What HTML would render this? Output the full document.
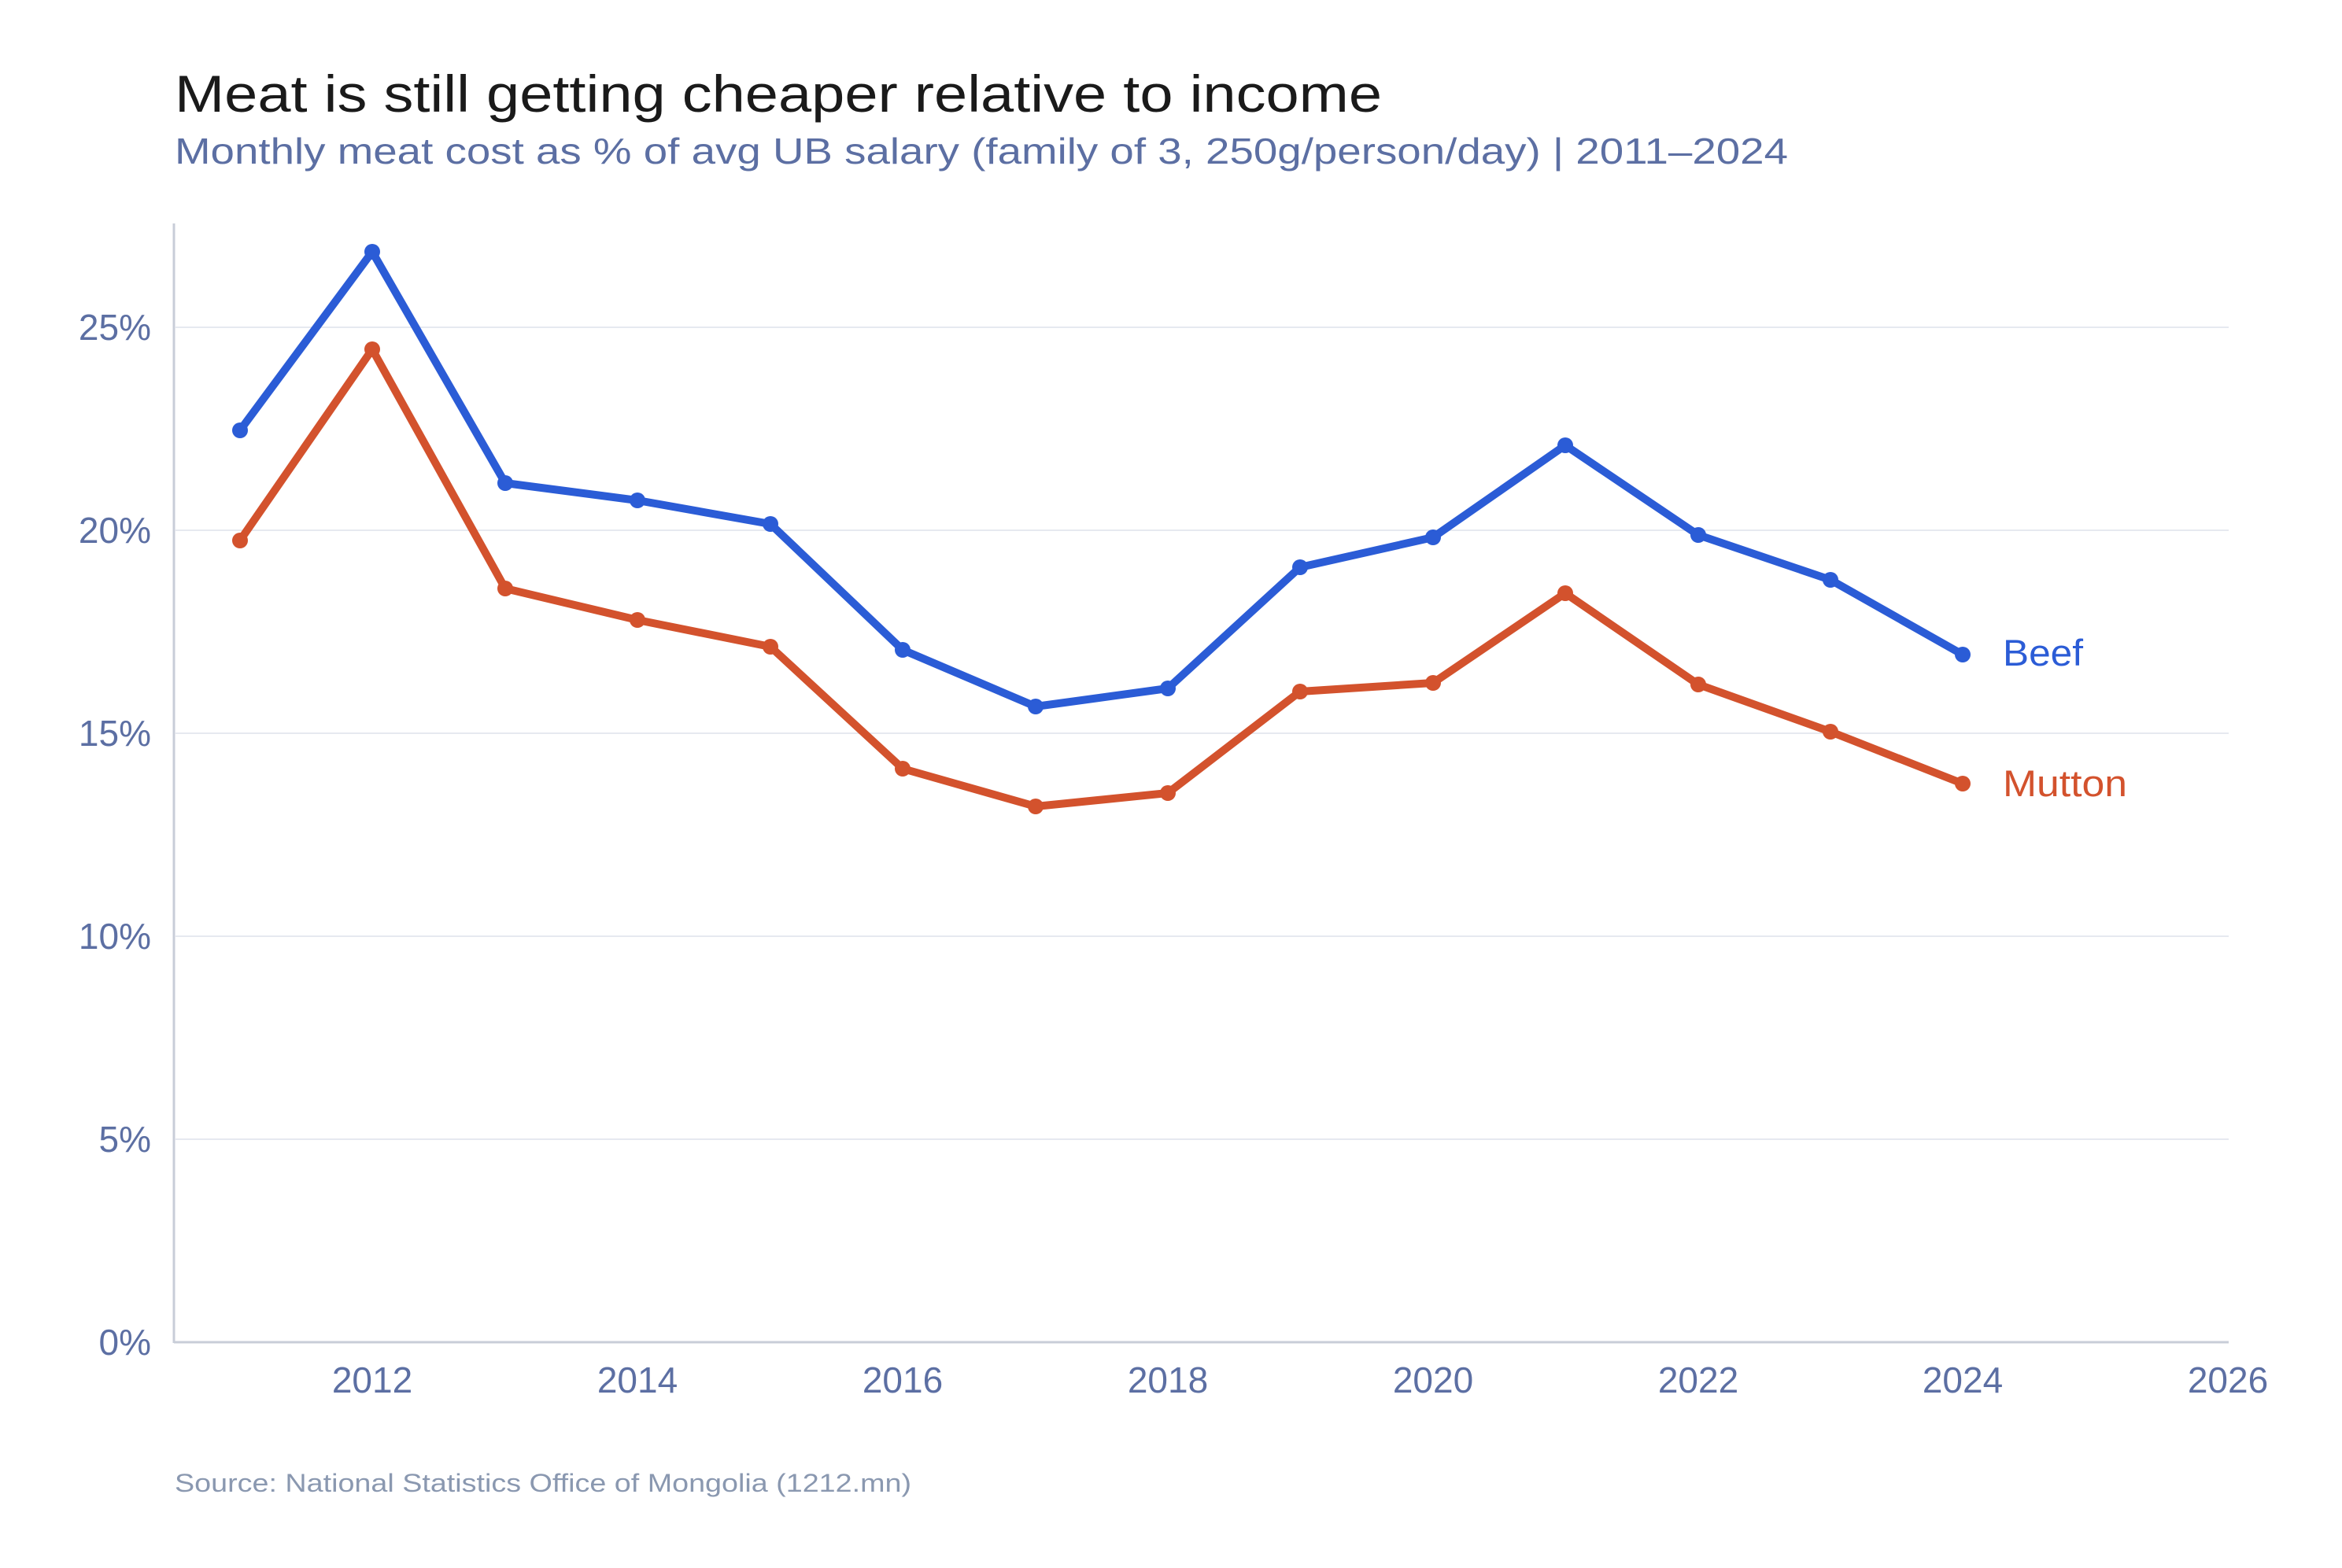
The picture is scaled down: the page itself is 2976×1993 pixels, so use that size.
<!DOCTYPE html>
<html><head><meta charset="utf-8"><style>html,body{margin:0;padding:0;background:#fff}svg{display:block}</style></head>
<body>
<svg width="2976" height="1993" viewBox="0 0 2976 1993" xmlns="http://www.w3.org/2000/svg" font-family="Liberation Sans, Arial, sans-serif">
<rect width="2976" height="1993" fill="#fff"/>
<text x="222" y="142" font-size="66" fill="#1a1a1a" textLength="1534" lengthAdjust="spacingAndGlyphs">Meat is still getting cheaper relative to income</text>
<text x="222" y="208" font-size="46" fill="#5c6fa3" textLength="2050" lengthAdjust="spacingAndGlyphs">Monthly meat cost as % of avg UB salary (family of 3, 250g/person/day) | 2011–2024</text>
<g stroke="#e6e9f0" stroke-width="2">
<line x1="223" y1="416" x2="2832" y2="416"/>
<line x1="223" y1="674" x2="2832" y2="674"/>
<line x1="223" y1="932" x2="2832" y2="932"/>
<line x1="223" y1="1190" x2="2832" y2="1190"/>
<line x1="223" y1="1448" x2="2832" y2="1448"/>
</g>
<line x1="221" y1="284" x2="221" y2="1707" stroke="#c8cdd8" stroke-width="3"/>
<line x1="221" y1="1706" x2="2832" y2="1706" stroke="#c8cdd8" stroke-width="3"/>
<g font-size="46" fill="#5c6fa3" text-anchor="end">
<text x="192" y="432">25%</text><text x="192" y="690">20%</text><text x="192" y="948">15%</text>
<text x="192" y="1206">10%</text><text x="192" y="1464">5%</text><text x="192" y="1722">0%</text>
</g>
<g font-size="46" fill="#5c6fa3" text-anchor="middle">
<text x="473" y="1770">2012</text><text x="810" y="1770">2014</text><text x="1147" y="1770">2016</text>
<text x="1484" y="1770">2018</text><text x="1821" y="1770">2020</text><text x="2158" y="1770">2022</text>
<text x="2494" y="1770">2024</text><text x="2831" y="1770">2026</text>
</g>
<polyline fill="none" stroke="#2b5cd6" stroke-width="10" stroke-linejoin="round" points="305,547 473,320 642,614 810,636 979,666 1147,826 1316,898 1484,875 1652,721 1821,683 1989,566 2158,680 2326,737 2494,832"/>
<g fill="#2b5cd6">
<circle cx="305" cy="547" r="10"/><circle cx="473" cy="320" r="10"/><circle cx="642" cy="614" r="10"/><circle cx="810" cy="636" r="10"/><circle cx="979" cy="666" r="10"/><circle cx="1147" cy="826" r="10"/><circle cx="1316" cy="898" r="10"/><circle cx="1484" cy="875" r="10"/><circle cx="1652" cy="721" r="10"/><circle cx="1821" cy="683" r="10"/><circle cx="1989" cy="566" r="10"/><circle cx="2158" cy="680" r="10"/><circle cx="2326" cy="737" r="10"/><circle cx="2494" cy="832" r="10"/>
</g>
<polyline fill="none" stroke="#d3522d" stroke-width="10" stroke-linejoin="round" points="305,687 473,444 642,748 810,788 979,822 1147,977 1316,1025 1484,1008 1652,879 1821,868 1989,754 2158,870 2326,930 2494,996"/>
<g fill="#d3522d">
<circle cx="305" cy="687" r="10"/><circle cx="473" cy="444" r="10"/><circle cx="642" cy="748" r="10"/><circle cx="810" cy="788" r="10"/><circle cx="979" cy="822" r="10"/><circle cx="1147" cy="977" r="10"/><circle cx="1316" cy="1025" r="10"/><circle cx="1484" cy="1008" r="10"/><circle cx="1652" cy="879" r="10"/><circle cx="1821" cy="868" r="10"/><circle cx="1989" cy="754" r="10"/><circle cx="2158" cy="870" r="10"/><circle cx="2326" cy="930" r="10"/><circle cx="2494" cy="996" r="10"/>
</g>
<text x="2545" y="846" font-size="47" fill="#2b5cd6" textLength="102" lengthAdjust="spacingAndGlyphs">Beef</text>
<text x="2545" y="1012" font-size="47" fill="#d3522d" textLength="158" lengthAdjust="spacingAndGlyphs">Mutton</text>
<text x="222" y="1896" font-size="32" fill="#8a98b0" textLength="936" lengthAdjust="spacingAndGlyphs">Source: National Statistics Office of Mongolia (1212.mn)</text>
</svg>
</body></html>
